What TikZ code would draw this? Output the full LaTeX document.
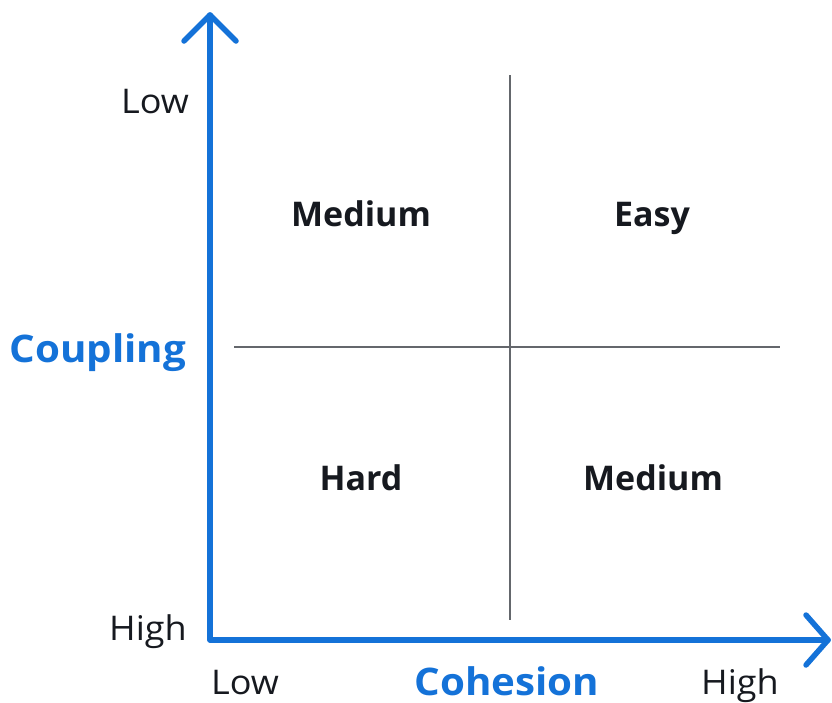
\documentclass[tikz,border=0pt]{standalone}
\usepackage{fontspec}
\setmainfont{Open Sans}
\definecolor{axblue}{RGB}{20,114,216}
\definecolor{txtdark}{RGB}{22,25,31}
\definecolor{gridgray}{RGB}{100,103,108}
\newcommand{\wider}[1]{\scalebox{1.06}[1]{#1}}
\begin{document}
\begin{tikzpicture}[x=1pt,y=-1pt,
  axis/.style={draw=axblue,line width=5.5pt,line cap=round,line join=round},
  grid/.style={draw=gridgray,line width=2.4pt},
  quad/.style={anchor=base,inner sep=0pt,font=\fontsize{34}{40}\selectfont\bfseries,text=txtdark},
  tick/.style={anchor=base,inner sep=0pt,font=\fontsize{34}{40}\selectfont,text=txtdark},
  axlabel/.style={anchor=base,inner sep=0pt,font=\fontsize{38}{44}\selectfont\bfseries,text=axblue}]
\useasboundingbox (0,0) rectangle (832,702);
\coordinate (origin) at (210,640);
\coordinate (ytip) at (210,15);
\coordinate (xtip) at (828,640);
\coordinate (vtop) at (510,75);
\coordinate (vbot) at (510,620);
\coordinate (hleft) at (234,347);
\coordinate (hright) at (780,347);
\draw[grid] (vtop) -- (vbot);
\draw[grid] (hleft) -- (hright);
\draw[axis] (ytip) -- (origin) -- (xtip);
\draw[axis] ([shift={(-26,26)}]ytip) -- (ytip) -- ([shift={(26,26)}]ytip);
\draw[axis] ([shift={(-22,-25)}]xtip) -- (xtip) -- ([shift={(-22,25)}]xtip);
\node[quad] (q1) at (361,226) {Medium};
\node[quad] (q2) at (652,226) {Easy};
\node[quad] (q3) at (361,490) {Hard};
\node[quad] (q4) at (653,490) {Medium};
\node[tick] (ylow) at (155,113) {\wider{Low}};
\node[tick] (yhigh) at (148,640) {\wider{High}};
\node[tick] (xlow) at (245,694) {\wider{Low}};
\node[tick] (xhigh) at (740,694) {\wider{High}};
\node[axlabel] (ylab) at (98,362) {\wider{Coupling}};
\node[axlabel] (xlab) at (507,695) {\wider{Cohesion}};
\end{tikzpicture}
\end{document}
